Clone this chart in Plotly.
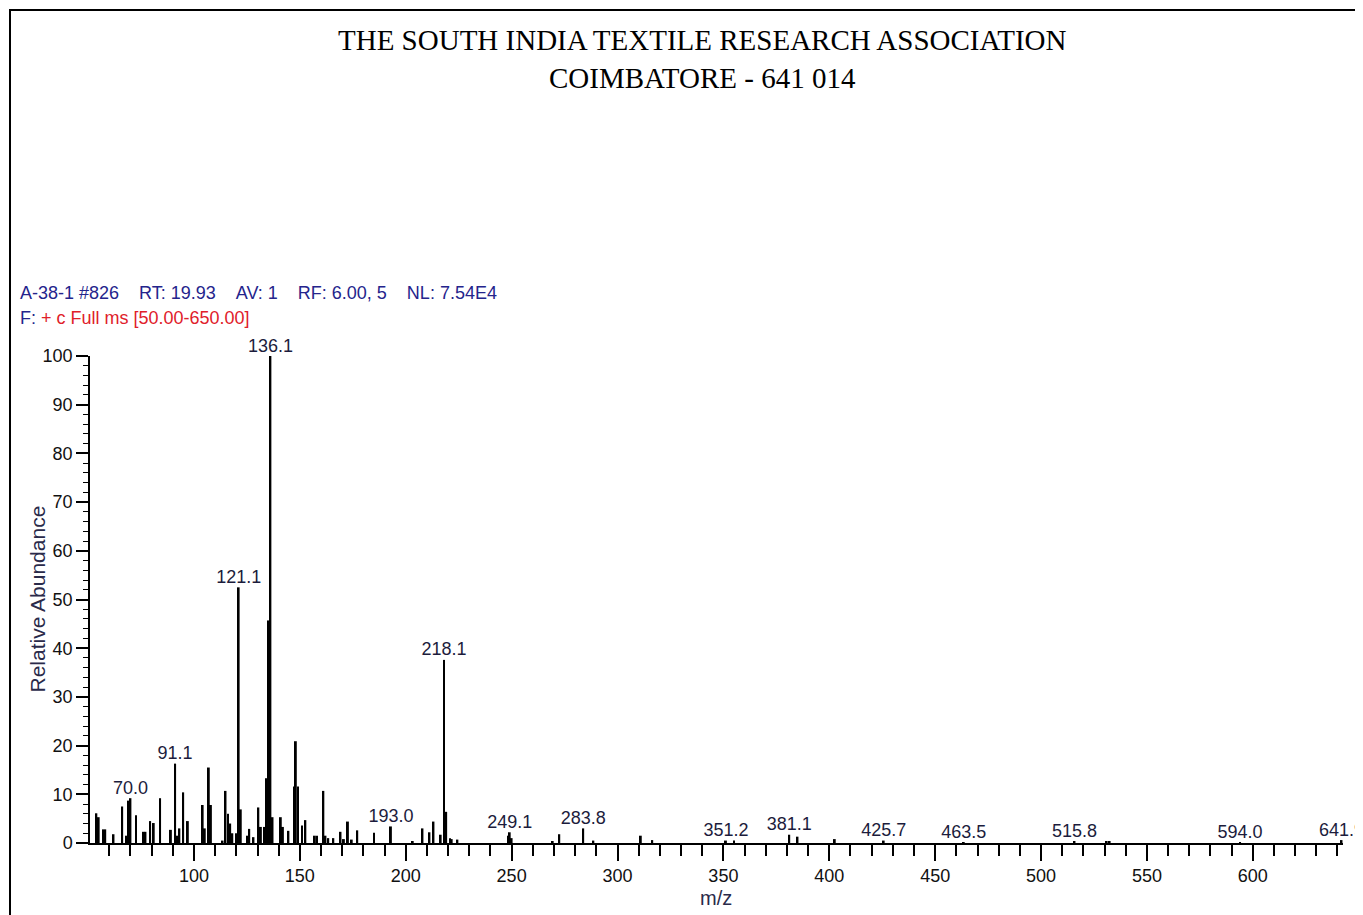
import plotly.graph_objects as go

# ---- data ----
mz = [53.9, 55.0, 57.1, 58.1, 62.0, 66.1, 68.1, 69.1, 70.0, 72.6, 76.1, 77.1, 79.3, 81.0,
      84.0, 89.1, 91.1, 92.1, 93.1, 94.9, 97.1, 104.1, 105.1, 107.0, 108.0, 113.5,
      114.9, 116.1, 117.1, 118.1, 120.1, 121.1, 122.1, 125.1, 126.1, 128.1, 130.4,
      131.6, 133.1, 134.1, 135.1, 136.1, 137.1, 141.0, 142.0, 144.6, 147.6, 148.1,
      149.1, 151.0, 152.6, 157.1, 158.1, 161.1, 162.1, 163.4, 165.8, 169.2, 170.8,
      172.7, 174.5, 177.1, 185.0, 193.0, 203.3, 207.9, 211.2, 213.1, 216.5, 218.1,
      219.1, 220.9, 221.7, 224.4, 248.6, 249.1, 250.0, 269.4, 272.5, 283.8, 288.6,
      311.0, 316.4, 351.2, 355.0, 381.1, 385.0, 402.6, 425.7, 463.5, 515.8, 531.0,
      532.4, 594.0, 641.9]
abundance = [6.1, 5.3, 2.8, 2.8, 1.8, 7.5, 1.5, 8.7, 9.2, 5.7, 2.3, 2.3, 4.5, 4.1,
             9.2, 2.7, 16.3, 1.5, 3.0, 10.4, 4.5, 7.8, 3.0, 15.5, 7.8, 0.5,
             10.7, 6.0, 4.0, 2.0, 2.0, 52.5, 6.9, 1.5, 2.9, 1.2, 7.3,
             3.3, 3.3, 13.3, 45.7, 100.0, 5.3, 5.3, 3.3, 2.5, 11.6, 20.9,
             11.6, 3.6, 4.7, 1.5, 1.5, 10.7, 1.5, 1.0, 1.0, 2.3, 0.8,
             4.4, 0.7, 2.6, 2.1, 3.4, 0.4, 3.0, 2.2, 4.4, 1.7, 37.6,
             6.4, 1.0, 0.8, 0.7, 1.5, 2.2, 1.0, 0.4, 1.8, 3.0, 0.5,
             1.5, 0.6, 0.5, 0.5, 1.7, 1.3, 0.8, 0.5, 0.2, 0.4, 0.4,
             0.4, 0.2, 0.6]
labels = ["70.0", "91.1", "121.1", "136.1", "193.0", "218.1", "249.1", "283.8",
          "351.2", "381.1", "425.7", "463.5", "515.8", "594.0", "641.9"]
x_ticks = [100, 150, 200, 250, 300, 350, 400, 450, 500, 550, 600]
y_ticks = [0, 10, 20, 30, 40, 50, 60, 70, 80, 90, 100]

title1 = "THE SOUTH INDIA TEXTILE RESEARCH ASSOCIATION"
title2 = "COIMBATORE - 641 014"
GAP = "\u00a0\u00a0\u00a0\u00a0"
header1 = "A-38-1 #826" + GAP + "RT: 19.93" + GAP + "AV: 1" + GAP + "RF: 6.00, 5" + GAP + "NL: 7.54E4"
header2_a = "F:"
header2_b = "+ c Full ms [50.00-650.00]"

# ---- layout geometry (pixels); page body has an 8px margin ----
OFF = 8
W, H = 1355, 907
L, R, T, B = 82, 20, 348, 72
PW, PH = W - L - R, H - T - B


def px(xp):
    return (xp - OFF - L) / PW


def py(yp):
    return (OFF + H - B - yp) / PH


peak_map = dict(zip(mz, abundance))
label_x = [float(s) for s in labels]
label_y = [peak_map[v] for v in label_x]

sans = "Liberation Sans"
fig = go.Figure()
fig.add_trace(go.Bar(x=mz, y=abundance, width=0.9,
                     marker=dict(color="black", line=dict(width=0)),
                     hoverinfo="x+y"))
fig.add_trace(go.Scatter(x=label_x, y=label_y, text=labels, mode="text",
                         textposition="top center", cliponaxis=False,
                         textfont=dict(family=sans, size=18, color="#1c1c3c"),
                         hoverinfo="skip"))

fig.update_layout(
    width=W, height=H,
    margin=dict(l=L, r=R, t=T, b=B, pad=0),
    paper_bgcolor="white", plot_bgcolor="white",
    showlegend=False,
    font=dict(family=sans, size=18, color="#111111"),
    xaxis=dict(range=[50.9, 642.6], tickmode="array", tickvals=x_ticks,
               ticktext=[str(v) for v in x_ticks],
               ticks="outside", ticklen=16, tickwidth=1.5, tickcolor="black",
               showline=True, linecolor="black", linewidth=1.5,
               showgrid=False, zeroline=False,
               minor=dict(dtick=10, tick0=0, ticks="outside", ticklen=11,
                          tickwidth=1.5, tickcolor="black", showgrid=False),
               tickfont=dict(family=sans, size=18, color="#111111")),
    yaxis=dict(range=[0, 100], tickmode="array", tickvals=y_ticks,
               ticktext=[str(v) for v in y_ticks],
               ticks="outside", ticklen=12, tickwidth=1.5, tickcolor="black",
               showline=True, linecolor="black", linewidth=1.5,
               showgrid=False, zeroline=False,
               minor=dict(dtick=2, tick0=0, ticks="outside", ticklen=5,
                          tickwidth=1, tickcolor="black", showgrid=False),
               tickfont=dict(family=sans, size=18, color="#111111")),
)

ann = []
ann.append(dict(text=title1, x=px(702), y=py(40), xref="paper", yref="paper",
                xanchor="center", yanchor="middle", showarrow=False,
                font=dict(family="Liberation Serif", size=29, color="black")))
ann.append(dict(text=title2, x=px(702), y=py(78), xref="paper", yref="paper",
                xanchor="center", yanchor="middle", showarrow=False,
                font=dict(family="Liberation Serif", size=29, color="black")))
ann.append(dict(text=header1, x=px(18), y=py(293), xref="paper", yref="paper",
                xanchor="left", yanchor="middle", showarrow=False,
                font=dict(family=sans, size=18, color="#24248c")))
ann.append(dict(text="<span style='color:#24248c'>" + header2_a + "</span> "
                     "<span style='color:#e0202a'>" + header2_b + "</span>",
                x=px(18), y=py(318), xref="paper", yref="paper",
                xanchor="left", yanchor="middle", showarrow=False,
                font=dict(family=sans, size=18, color="#e0202a")))
ann.append(dict(text="Relative Abundance", x=px(37), y=0.5, xref="paper", yref="paper",
                xanchor="center", yanchor="middle", showarrow=False, textangle=-90,
                font=dict(family=sans, size=21, color="#2a2a4a")))
ann.append(dict(text="m/z", x=px(716), y=py(898), xref="paper", yref="paper",
                xanchor="center", yanchor="middle", showarrow=False,
                font=dict(family=sans, size=20, color="#2a2a4a")))
fig.update_layout(annotations=ann)

fig.add_shape(type="rect", xref="paper", yref="paper",
              x0=px(10), x1=px(1361), y0=py(935), y1=py(10),
              line=dict(color="black", width=2), fillcolor="rgba(0,0,0,0)", layer="above")

fig.write_html("out.html")
